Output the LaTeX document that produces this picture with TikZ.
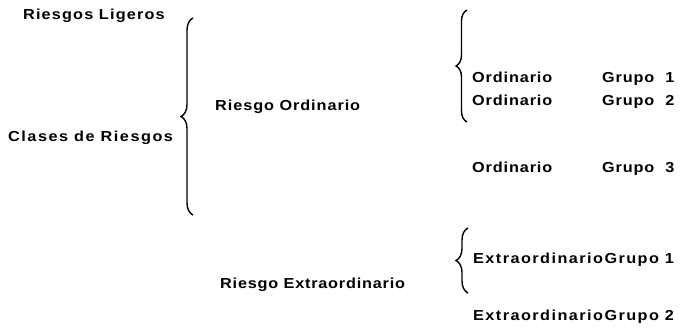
\documentclass[tikz,border=0pt]{standalone}
\usepackage{fontspec}
\newfontfamily\labelfont{Liberation Sans}[FakeStretch=1.12, LetterSpace=6]
\usetikzlibrary{decorations.pathreplacing}
\tikzset{
  lbl/.style={anchor=base west, inner sep=0pt, font=\labelfont\bfseries\fontsize{14.5}{16}\selectfont},
  spread/.style={font=\labelfont\bfseries\fontsize{14.5}{16}\selectfont\addfontfeature{LetterSpace=#1}},
  curly/.style={line width=1.4pt, decorate, decoration={brace, amplitude=#1}},
}
\begin{document}
\begin{tikzpicture}[x=1pt, y=-1pt]
\useasboundingbox (0,0) rectangle (683,329);

% left column
\node[lbl, spread=8] (lig) at (23,19.5) {Riesgos Ligeros};
\node[lbl, spread=10.5] (cls) at (8,141) {Clases de Riesgos};

% main brace
\coordinate (b1t) at (193,18);
\coordinate (b1b) at (193,215);
\draw[curly=12pt] (b1b) -- (b1t);

% middle column
\node[lbl, spread=6.5] (ord) at (215,110.5) {Riesgo Ordinario};
\node[lbl, spread=5.5] (ext) at (220,288) {Riesgo Extraordinario};

% brace for the ordinary groups
\coordinate (b2t) at (467,10);
\coordinate (b2b) at (467,122);
\draw[curly=11pt] (b2b) -- (b2t);

\node[lbl] (o1) at (472,82.5) {Ordinario};
\node[lbl] (g1) at (602,82.5) {Grupo\hspace{0.75em}1};
\node[lbl] (o2) at (472,105) {Ordinario};
\node[lbl] (g2) at (602,105) {Grupo\hspace{0.75em}2};
\node[lbl] (o3) at (472,172) {Ordinario};
\node[lbl] (g3) at (602,172) {Grupo\hspace{0.75em}3};

% brace for the extraordinary groups
\coordinate (b3t) at (468,228);
\coordinate (b3b) at (468,293);
\draw[curly=12pt] (b3b) -- (b3t);

\node[lbl, spread=10] (e1) at (473,263) {ExtraordinarioGrupo 1};
\node[lbl, spread=10] (e2) at (473,320) {ExtraordinarioGrupo 2};
\end{tikzpicture}
\end{document}
